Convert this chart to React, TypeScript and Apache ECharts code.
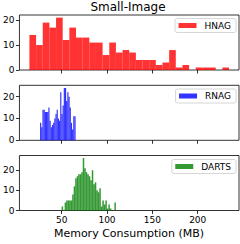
import React, { useEffect, useRef } from "react";
import * as echarts from "echarts";

// Histogram bin counts
const hnagCounts = [14, 10, 19, 17, 21, 12, 17, 13, 13, 11, 11, 6, 11, 7, 8, 7, 4, 4, 4, 2, 3, 8, 1, 2, 0, 1, 1, 1, 0, 1];
const hnagRange = [14.5, 234.5];

const rnagCounts = [8, 6, 14, 14, 13, 13, 13, 15, 9, 6, 7, 8, 10, 12, 14, 10, 9, 22, 12, 16, 24, 24, 18, 22, 20, 15, 8, 5, 11, 11];
const rnagRange = [26.2, 65.4];

const dartsCounts = [2, 0, 4, 5, 5, 5, 5, 8, 12, 16, 17, 18, 18, 19, 26, 21, 19, 18, 17, 15, 20, 13, 14, 10, 9, 11, 2, 5, 3, 5, 1, 3, 1, 0, 0, 4];
const dartsRange = [50, 109.8];

const seriesNames = ["HNAG", "RNAG", "DARTS"];
const seriesColors = ["rgba(255,0,0,0.8)", "rgba(0,0,255,0.8)", "rgba(0,128,0,0.8)"];
const yMax = [22.05, 25.2, 27.3];
const xTicks = [50, 100, 150, 200];
const yTicks = [0, 10, 20];
const xRange = [3.5, 245.5];
const titleText = "Small-Image";
const xLabelText = "Memory Consumption (MB)";

const FONT = "DejaVu Sans";

function toBins(counts: number[], range: number[]) {
  const w = (range[1] - range[0]) / counts.length;
  return counts.map((c, i) => [range[0] + i * w, range[0] + (i + 1) * w, c]);
}

export default function App() {
  const ref = useRef<HTMLDivElement>(null);
  useEffect(() => {
    if (!ref.current) return;
    const chart = echarts.init(ref.current, null, { renderer: "svg" });
    const datasets = [
      toBins(hnagCounts, hnagRange),
      toBins(rnagCounts, rnagRange),
      toBins(dartsCounts, dartsRange),
    ];
    const tops = [15, 85.3, 155.5];
    const gridH = 55;
    const legendTops = [18.5, 89, 159.5];

    const grid = tops.map((t) => ({
      left: 19,
      width: 220,
      top: t,
      height: gridH,
      show: true,
      borderColor: "#000",
      borderWidth: 0.8,
      backgroundColor: "transparent",
    }));

    const xAxis = [0, 1, 2].map((i) => ({
      type: "value",
      gridIndex: i,
      min: xRange[0],
      max: xRange[1],
      splitLine: { show: false },
      axisLine: { show: false },
      axisTick: {
        show: true,
        length: 3.5,
        inside: false,
        customValues: xTicks,
        lineStyle: { color: "#000", width: 0.8 },
      },
      axisLabel: {
        show: i === 2,
        customValues: xTicks,
        fontFamily: FONT,
        fontSize: 9,
        color: "#000",
        margin: 5,
      },
    }));

    const yAxis = [0, 1, 2].map((i) => ({
      type: "value",
      gridIndex: i,
      min: 0,
      max: yMax[i],
      splitLine: { show: false },
      axisLine: { show: false },
      axisTick: {
        show: true,
        length: 3.5,
        inside: false,
        customValues: yTicks,
        lineStyle: { color: "#000", width: 0.8 },
      },
      axisLabel: {
        show: true,
        customValues: yTicks,
        fontFamily: FONT,
        fontSize: 9,
        color: "#000",
        margin: 5,
      },
    }));

    const series = datasets.map((d, i) => ({
      type: "custom",
      name: seriesNames[i],
      xAxisIndex: i,
      yAxisIndex: i,
      data: d,
      itemStyle: { color: seriesColors[i] },
      encode: { x: [0, 1], y: 2 },
      renderItem: (params: any, api: any) => {
        const x0 = api.value(0);
        const x1 = api.value(1);
        const c = api.value(2);
        const p0 = api.coord([x0, c]);
        const p1 = api.coord([x1, 0]);
        return {
          type: "rect",
          shape: { x: p0[0], y: p0[1], width: p1[0] - p0[0], height: p1[1] - p0[1] },
          style: { fill: seriesColors[i] },
        };
      },
    }));

    const legend = [0, 1, 2].map((i) => ({
      data: [{ name: seriesNames[i], icon: "rect", itemStyle: { color: seriesColors[i] } }],
      right: 4,
      top: legendTops[i],
      orient: "horizontal",
      itemWidth: 18,
      itemHeight: 5,
      padding: [2.5, 5, 2.5, 3.5],
      borderColor: "#ccc",
      borderWidth: 0.8,
      borderRadius: 2,
      backgroundColor: "rgba(255,255,255,0.8)",
      selectedMode: false,
      textStyle: {
        fontFamily: FONT,
        fontSize: 9,
        color: "#000",
        padding: [0, 0, 0, 3],
        lineHeight: 9,
      },
    }));

    chart.setOption({
      animation: false,
      backgroundColor: "#fff",
      grid,
      xAxis,
      yAxis,
      series,
      legend,
      graphic: [
        {
          type: "text",
          x: 128,
          y: 7,
          style: {
            text: titleText,
            font: `12px "${FONT}"`,
            fill: "#000",
            align: "center",
            verticalAlign: "middle",
          },
        },
        {
          type: "text",
          x: 129,
          y: 233,
          style: {
            text: xLabelText,
            font: `11px "${FONT}"`,
            fill: "#000",
            align: "center",
            verticalAlign: "middle",
          },
        },
      ],
    });
    return () => chart.dispose();
  }, []);
  return (
    <div
      ref={ref}
      style={{ position: "fixed", left: 0, top: 0, width: 240, height: 244 }}
    />
  );
}
